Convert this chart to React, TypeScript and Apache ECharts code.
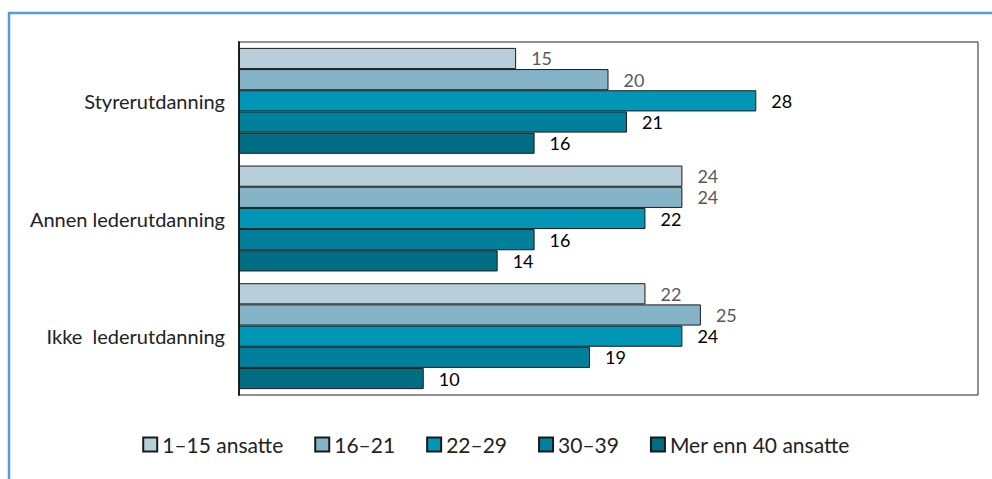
import React, { useEffect, useRef } from "react";
import * as echarts from "echarts";

const categories = ["Styrerutdanning", "Annen lederutdanning", "Ikke  lederutdanning"];
const seriesNames = ["1–15 ansatte", "16–21", "22–29", "30–39", "Mer enn 40 ansatte"];
const s1 = [15, 24, 22];
const s2 = [20, 24, 25];
const s3 = [28, 22, 24];
const s4 = [21, 16, 19];
const s5 = [16, 14, 10];
const seriesValues = [s1, s2, s3, s4, s5];
const colors = ["#b7cfdb", "#85b4c8", "#0096b6", "#00809a", "#006d83"];
const labelColors = ["#595959", "#595959", "#000000", "#000000", "#000000"];

export default function App() {
  const ref = useRef<HTMLDivElement>(null);
  useEffect(() => {
    if (!ref.current) return;
    const chart = echarts.init(ref.current, null, { renderer: "svg" });
    const font = "Lato, 'Noto Sans', sans-serif";
    chart.setOption({
      animation: false,
      textStyle: { fontFamily: font },
      graphic: [
        {
          type: "rect",
          shape: { x: 9, y: 13, width: 1000, height: 500 },
          style: { fill: "none", stroke: "#5b9bd5", lineWidth: 2.5 },
          silent: true,
        },
      ],
      grid: { left: 239, right: 14, top: 42, bottom: 84, show: true, borderColor: "#222", borderWidth: 1 },
      xAxis: {
        type: "value",
        min: 0,
        max: 40,
        show: false,
      },
      yAxis: {
        type: "category",
        data: categories,
        inverse: true,
        axisLine: { show: true, lineStyle: { color: "#222", width: 2 } },
        axisTick: { show: false },
        axisLabel: { color: "#222", fontSize: 20, fontFamily: font, margin: 14 },
      },
      legend: {
        bottom: 19,
        left: "center",
        icon: "rect",
        itemWidth: 14,
        itemHeight: 14,
        itemGap: 31,
        textStyle: { fontSize: 21, color: "#222", fontFamily: font },
        data: seriesNames,
      },
      series: seriesNames.map((name, i) => ({
        name,
        type: "bar",
        data: seriesValues[i],
        barGap: "0%",
        barCategoryGap: "10%",
        itemStyle: { color: colors[i], borderColor: "#1a1a1a", borderWidth: 1 },
        label: {
          show: true,
          position: "right",
          distance: 15,
          color: labelColors[i],
          fontSize: 18,
          fontFamily: font,
        },
      })),
    });
    return () => chart.dispose();
  }, []);
  return (
    <div
      ref={ref}
      style={{ position: "fixed", left: 0, top: 0, width: 992, height: 479, background: "#fff" }}
    />
  );
}
